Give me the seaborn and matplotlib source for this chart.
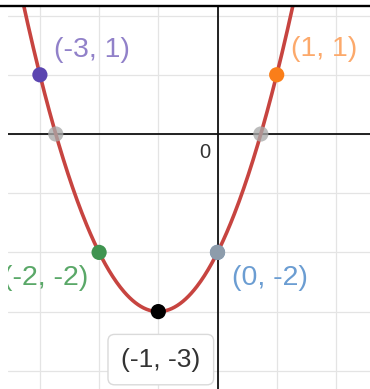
import numpy as np
import pandas as pd
import matplotlib
matplotlib.use("Agg")
import matplotlib.pyplot as plt
from matplotlib.lines import Line2D
import seaborn as sns

# ---- data ----
pt_x = [-3, 1, -2, 0, -1]
pt_y = [1, 1, -2, -2, -3]
pt_labels = ["(-3, 1)", "(1, 1)", "(-2, -2)", "(0, -2)", "(-1, -3)"]
pt_colors = ["#5b45b0", "#fa7e19", "#3f9450", "#2d70b3", "#000000"]
label_colors = ["#9181c9", "#fca96b", "#5aa868", "#6b9dd2", "#333333"]

sns.set_theme(style="white")
plt.rcParams["font.family"] = ["Liberation Sans", "DejaVu Sans"]

W, H, DPI = 370, 389, 100
fig = plt.figure(figsize=(W / DPI, H / DPI), dpi=DPI)
ax = fig.add_axes([8 / W, 0, 362 / W, 382 / H])

x0px, y0px, s = 217.5, 134, 59.2
ax.set_xlim((8 - x0px) / s, (370 - x0px) / s)
ax.set_ylim((y0px - 389) / s, (y0px - 7) / s)

# grid
for gx in range(-3, 3):
    ax.axvline(gx, color="#e4e4e4", lw=0.9, zorder=0)
for gy in range(-4, 3):
    ax.axhline(gy, color="#e4e4e4", lw=0.9, zorder=0)
ax.axhline(0, color="#111111", lw=1.3, zorder=1)
ax.axvline(0, color="#111111", lw=1.3, zorder=1)

# parabola through the labelled points
coef = np.polyfit(pt_x, pt_y, 2)
xs = np.linspace(-3.6, 2.7, 400)
curve = pd.DataFrame({"x": xs, "y": np.polyval(coef, xs)})
sns.lineplot(data=curve, x="x", y="y", color="#c74440", lw=2.6, ax=ax, zorder=3)

# points
pts = pd.DataFrame({"x": pt_x, "y": pt_y, "lab": pt_labels})
sns.scatterplot(data=pts, x="x", y="y", hue="lab", palette=dict(zip(pt_labels, pt_colors)),
                s=120, edgecolor="none", legend=False, ax=ax, zorder=4)

# gray intercept points
roots = np.sort(np.real(np.roots(coef)))
gray = pd.DataFrame({"x": list(roots) + [0.0], "y": [0.0, 0.0, np.polyval(coef, 0.0)]})
sns.scatterplot(data=gray, x="x", y="y", color="#a9a9a9", alpha=0.78, s=120,
                edgecolor="none", legend=False, ax=ax, zorder=5)

# labels
offsets = [(14, 18, "left"), (14, 19, "left"), (-11, -33, "right"), (14, -33, "left")]
for i, (dx, dy, ha) in enumerate(offsets):
    ax.annotate(pt_labels[i], (pt_x[i], pt_y[i]), xytext=(dx, dy), textcoords="offset pixels",
                ha=ha, va="baseline", fontsize=20.5, color=label_colors[i], zorder=6,
                annotation_clip=False, clip_on=True)
ax.annotate(pt_labels[4], (pt_x[4], pt_y[4]), xytext=(2.5, -55), textcoords="offset pixels",
            ha="center", va="baseline", fontsize=19, color=label_colors[4], zorder=6,
            bbox=dict(boxstyle="round,pad=0.5,rounding_size=0.25", fc="white", ec="#dadada", lw=1))

ax.annotate("0", (0, 0), xytext=(-7, -24), textcoords="offset pixels", ha="right",
            va="baseline", fontsize=14.5, color="#333333")

for sp in ax.spines.values():
    sp.set_visible(False)
ax.set_xticks([])
ax.set_yticks([])
ax.set_xlabel("")
ax.set_ylabel("")

fig.add_artist(Line2D([0, 1], [1 - 6 / H, 1 - 6 / H], color="black", lw=1.7,
                      transform=fig.transFigure))

fig.savefig("out.png", dpi=DPI)
